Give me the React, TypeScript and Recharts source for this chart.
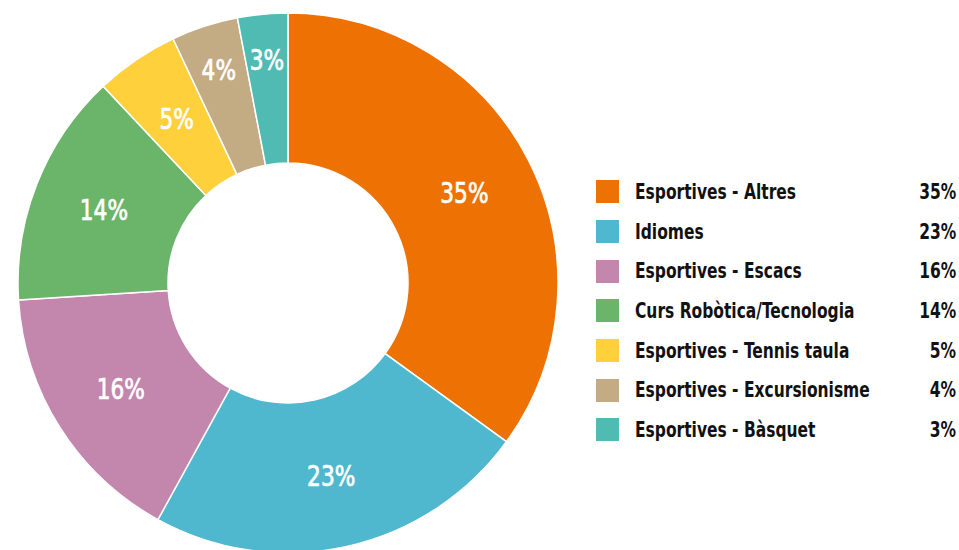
import { Cell, Legend, Pie, PieChart } from "recharts";

const categories = [
  "Esportives - Altres",
  "Idiomes",
  "Esportives - Escacs",
  "Curs Robòtica/Tecnologia",
  "Esportives - Tennis taula",
  "Esportives - Excursionisme",
  "Esportives - Bàsquet",
];
const shares = [35, 23, 16, 14, 5, 4, 3];
const colors = ["#ee7203", "#4fb8cf", "#c386ad", "#6bb56a", "#fdd03c", "#c3ab83", "#50bbb3"];

const FONT = "'DejaVu Sans Condensed', 'Liberation Sans Narrow', sans-serif";
const RAD = Math.PI / 180;

const data = categories.map((name, i) => ({ name, value: shares[i], color: colors[i] }));

function SliceLabel(props: any) {
  const { cx, cy, midAngle, value } = props;
  // thin slices get their label pushed toward the outer edge
  const r = value < 5 ? 224 : 198;
  const x = cx + r * Math.cos(-midAngle * RAD);
  const y = cy + r * Math.sin(-midAngle * RAD);
  return (
    <text
      transform={`translate(${x},${y}) scale(0.86,1)`}
      fill="#fff"
      stroke="#fff"
      strokeWidth={0.7}
      textAnchor="middle"
      dominantBaseline="central"
      fontFamily={FONT}
      fontSize={28}
    >
      {value}%
    </text>
  );
}

const squeeze = { display: "inline-block", transform: "scaleX(0.82)", whiteSpace: "nowrap" } as const;

function ShareLegend() {
  return (
    <div style={{ width: 360, fontFamily: FONT, fontWeight: 700, fontSize: 21, color: "#111" }}>
      {data.map((d) => (
        <div key={d.name} style={{ display: "flex", alignItems: "center", height: 39.7 }}>
          <span style={{ width: 23, height: 23, background: d.color, marginRight: 16, flex: "none" }} />
          <span style={{ flex: 1 }}>
            <span style={{ ...squeeze, transformOrigin: "left center" }}>{d.name}</span>
          </span>
          <span style={{ ...squeeze, transformOrigin: "right center" }}>{d.value}%</span>
        </div>
      ))}
    </div>
  );
}

export default function App() {
  return (
    <div style={{ position: "absolute", left: 0, top: 0, background: "#fff" }}>
      <PieChart width={959} height={550} margin={{ top: 0, right: 0, bottom: 0, left: 0 }}>
        <Pie
          data={data}
          dataKey="value"
          nameKey="name"
          cx={288}
          cy={283}
          innerRadius={120}
          outerRadius={270}
          startAngle={90}
          endAngle={-270}
          stroke="#fff"
          strokeWidth={1.5}
          label={SliceLabel}
          labelLine={false}
          isAnimationActive={false}
        >
          {data.map((d) => (
            <Cell key={d.name} fill={d.color} />
          ))}
        </Pie>
        <Legend
          layout="vertical"
          align="right"
          verticalAlign="top"
          wrapperStyle={{ left: 596, top: 172, width: 360 }}
          content={() => <ShareLegend />}
        />
      </PieChart>
    </div>
  );
}
